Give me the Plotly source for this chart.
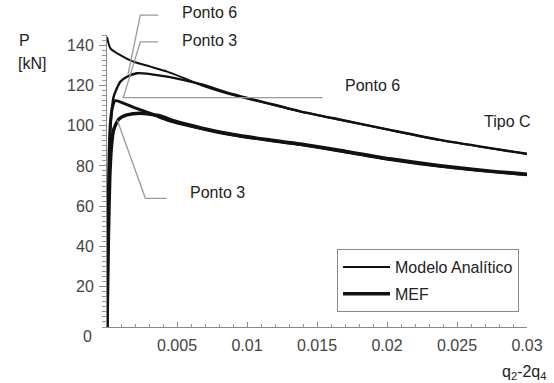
import plotly.graph_objects as go

# ---------------- data ----------------
# Modelo Analítico, Tipo C (thin upper curve)
ana_c_x = [0, 0.00024, 0.00095, 0.0019, 0.0031, 0.0043, 0.0055, 0.0067, 0.009, 0.0114,
           0.0138, 0.0167, 0.0202, 0.0238, 0.0274, 0.03]
ana_c_p = [144, 138.4, 135.0, 131.7, 129.3, 126.8, 123.6, 120.2, 115.2, 111.1,
           107.0, 102.8, 97.8, 92.8, 88.7, 85.9]

# MEF, Tipo C (upper curve with peak ~126)
mef_c_x = [0, 0.00008, 0.00018, 0.0003, 0.00047, 0.00095, 0.00143, 0.00214, 0.0031, 0.0043,
           0.0055, 0.0067, 0.009, 0.0114, 0.0138, 0.0167, 0.0202, 0.0238, 0.0274, 0.03]
mef_c_p = [0, 50, 90, 104, 114.3, 121.8, 124.3, 126.0, 125.6, 124.3,
           122.6, 120.6, 115.6, 111.3, 107.1, 102.9, 97.9, 92.9, 88.8, 86.0]

# Modelo Analítico (lower curve with peak ~112)
ana_l_x = [0, 0.00007, 0.00015, 0.00025, 0.0004, 0.00059, 0.0019, 0.0031, 0.0043, 0.0067,
           0.009, 0.0114, 0.0138, 0.0167, 0.0202, 0.0238, 0.0274, 0.03]
ana_l_p = [0, 50, 85, 102, 109.5, 112.4, 109.1, 106.1, 102.8, 98.6,
           95.3, 92.8, 90.6, 87.3, 83.2, 79.8, 77.2, 75.6]

# MEF (lower curve with peak ~106)
mef_l_x = [0, 0.0001, 0.0002, 0.00032, 0.00047, 0.00083, 0.00143, 0.00238, 0.0038, 0.0048,
           0.0067, 0.009, 0.0114, 0.0138, 0.0167, 0.0202, 0.0238, 0.0274, 0.03]
mef_l_p = [0, 45, 75, 90, 97.8, 103.1, 105.3, 106.1, 104.8, 102.3,
           98.9, 95.6, 93.1, 90.9, 87.6, 83.5, 80.1, 77.4, 75.9]

x_tick_vals = [0.005, 0.01, 0.015, 0.02, 0.025, 0.03]
x_tick_text = ["0.005", "0.01", "0.015", "0.02", "0.025", "0.03"]
y_tick_vals = [20, 40, 60, 80, 100, 120, 140]
y_tick_text = ["20", "40", "60", "80", "100", "120", "140"]

# leader lines (data coordinates)
lead_p6_top = [(0.00366, 154.9), (0.00238, 154.9), (0.0015, 125.5)]
lead_p3_top = [(0.00366, 141.6), (0.00238, 141.6), (0.00116, 113.9)]
lead_p6_right = [(0.00109, 113.9), (0.0154, 113.9)]
lead_p3_bot = [(0.00074, 102.7), (0.00274, 63.9), (0.00426, 63.9)]

X_MAX = 0.03
Y_MAX = 145

FONT = "Liberation Sans, Arial, sans-serif"
BLACK = "#111111"
GRAY = "#9a9a9a"

fig = go.Figure()

fig.add_trace(go.Scatter(x=mef_c_x, y=mef_c_p, mode="lines", showlegend=False,
                         line=dict(color=BLACK, width=2.4, shape="spline", smoothing=0.6)))
fig.add_trace(go.Scatter(x=ana_c_x, y=ana_c_p, mode="lines", name="Modelo Analítico",
                         legendgroup="a",
                         line=dict(color=BLACK, width=2, shape="spline", smoothing=0.6)))
fig.add_trace(go.Scatter(x=ana_l_x, y=ana_l_p, mode="lines", showlegend=False,
                         line=dict(color=BLACK, width=3, shape="spline", smoothing=0.6)))
fig.add_trace(go.Scatter(x=mef_l_x, y=mef_l_p, mode="lines", name="MEF",
                         legendgroup="b",
                         line=dict(color=BLACK, width=3.5, shape="spline", smoothing=0.6)))


def to_paper(pt):
    return pt[0] / X_MAX, pt[1] / Y_MAX


shapes = []
for lead in [lead_p6_top, lead_p3_top, lead_p6_right, lead_p3_bot]:
    pts = [to_paper(p) for p in lead]
    path = "M" + " L".join(f"{a:.5f},{b:.5f}" for a, b in pts)
    shapes.append(dict(type="path", path=path, xref="paper", yref="paper",
                       line=dict(color=GRAY, width=1.3)))

L, R, T, B = 107, 27, 35, 56
PW, PH = 554 - L - R, 383 - T - B


def px(xp):
    return (xp - L) / PW


def py(yp):
    return (383 - B - yp) / PH


def ann(text, x, y, xanchor="left", color="#222222", size=16):
    return dict(text=text, x=px(x), y=py(y), xref="paper", yref="paper",
                xanchor=xanchor, yanchor="middle", showarrow=False,
                font=dict(family=FONT, size=size, color=color))


annotations = [
    ann("Ponto 6", 180, 13),
    ann("Ponto 3", 180, 41),
    ann("Ponto 6", 343, 85),
    ann("Ponto 3", 188, 193),
    ann("Tipo C", 482, 122),
    ann("P", 17, 41),
    ann("[kN]", 16, 63),
    ann("0", 94, 336, xanchor="right", color="#444444"),
    ann("q<sub>2</sub>-2q<sub>4</sub>", 549, 372, xanchor="right"),
]

fig.update_layout(
    width=554, height=383,
    margin=dict(l=L, r=R, t=T, b=B),
    paper_bgcolor="white", plot_bgcolor="white",
    font=dict(family=FONT, size=16, color="#444444"),
    shapes=shapes,
    annotations=annotations,
    legend=dict(x=px(337), y=py(249), xanchor="left", yanchor="top",
                bgcolor="white", bordercolor="#8a8a8a", borderwidth=1,
                font=dict(family=FONT, size=16, color="#222222"),
                itemwidth=47, tracegroupgap=3),
    xaxis=dict(range=[0, X_MAX], tickvals=x_tick_vals, ticktext=x_tick_text,
               showgrid=False, zeroline=False, showline=True, linecolor="#888888",
               linewidth=1, ticks="inside", ticklen=5, tickcolor="#888888",
               ticklabelstandoff=4,
               tickfont=dict(family=FONT, size=16, color="#444444"),
               minor=dict(dtick=0.001, ticks="inside", ticklen=3, tickcolor="#999999",
                          showgrid=False)),
    yaxis=dict(range=[0, Y_MAX], tickvals=y_tick_vals, ticktext=y_tick_text,
               showgrid=False, zeroline=False, showline=True, linecolor="#888888",
               linewidth=1, ticks="outside", ticklen=7, tickcolor="#888888",
               ticklabelstandoff=2,
               tickfont=dict(family=FONT, size=16, color="#444444"),
               minor=dict(dtick=2.5, ticks="outside", ticklen=4, tickcolor="#999999",
                          showgrid=False)),
)

fig.write_html("out.html")
